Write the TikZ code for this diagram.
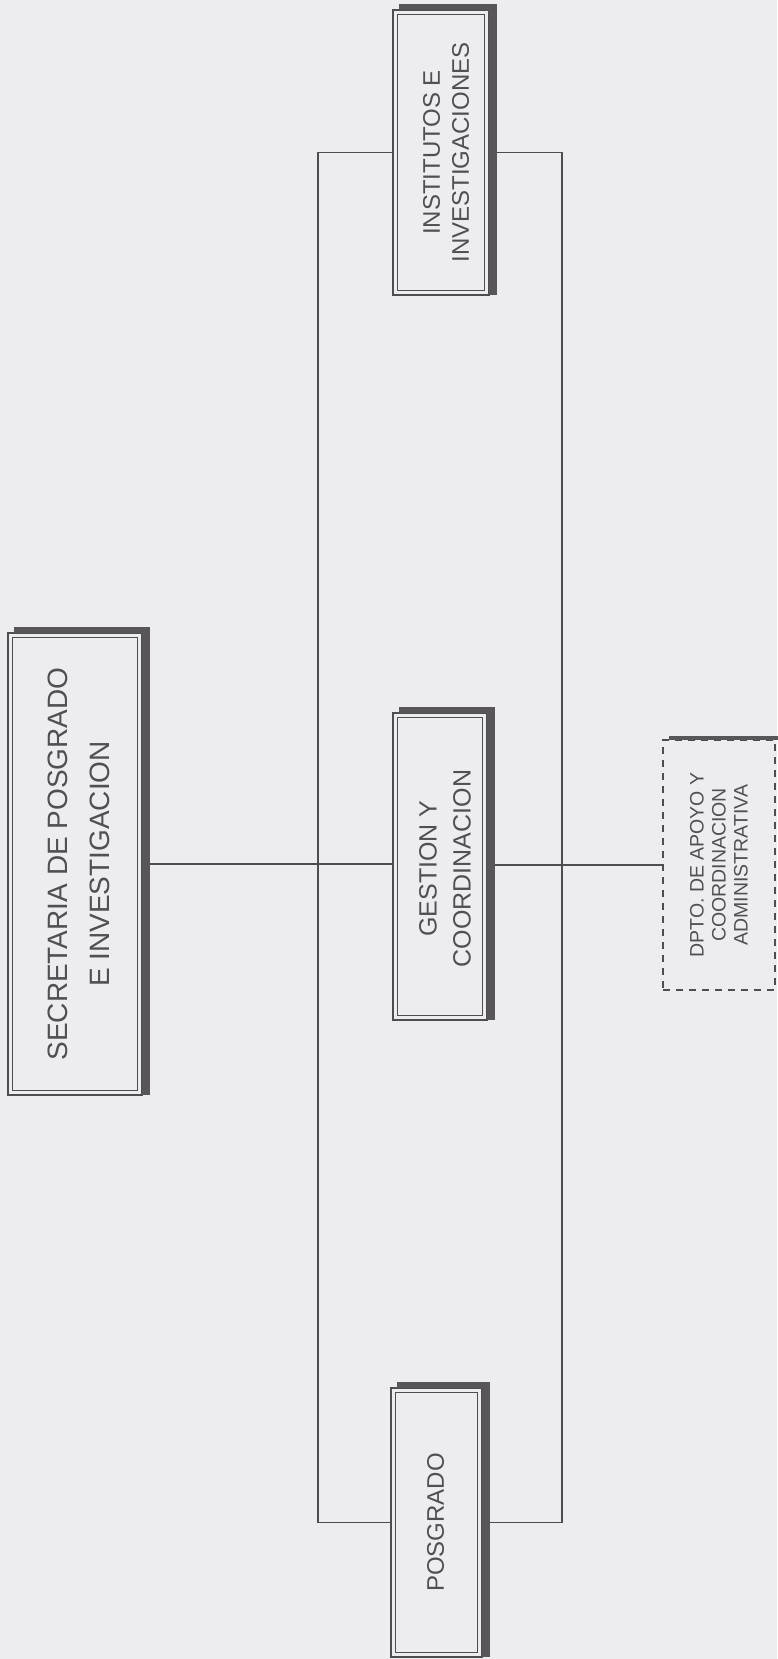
\documentclass[tikz,border=0pt]{standalone}
\usepackage{fontspec}
\setmainfont{Liberation Sans}
\definecolor{bgc}{RGB}{237,237,240}
\definecolor{linec}{RGB}{78,78,80}
\definecolor{shadc}{RGB}{88,86,88}
\definecolor{txtc}{RGB}{80,80,82}
\tikzset{
  frame/.style={draw=linec, line width=1.3pt, inner sep=0pt, outer sep=0pt, fill=bgc},
  dframe/.style={draw=linec, line width=1.4pt, dash pattern=on 7pt off 6pt, inner sep=0pt, outer sep=0pt, fill=bgc},
  conn/.style={draw=linec, line width=1.2pt},
  lbl/.style={text=txtc, rotate=90, align=center, inner sep=0pt},
}
\newcommand\orgdeco[1]{%
  \fill[shadc] ([xshift=6pt]#1.north west) rectangle ([xshift=8pt,yshift=6pt]#1.north east);
  \fill[shadc] (#1.south east) rectangle ([xshift=8pt,yshift=6pt]#1.north east);
  \draw[linec,line width=1.1pt] ([xshift=4.5pt,yshift=-4.5pt]#1.north west) rectangle ([xshift=-4.5pt,yshift=4.5pt]#1.south east);
}
\begin{document}
\begin{tikzpicture}[x=1pt,y=-1pt]
\useasboundingbox (0,0) rectangle (777,1659);
\fill[bgc] (0,0) rectangle (777,1659);
% boxes
\node[frame, minimum width=96pt, minimum height=285pt] (inst) at (441,152.5) {};
\node[frame, minimum width=134pt, minimum height=462pt] (sec) at (75,864) {};
\node[frame, minimum width=94pt, minimum height=307pt] (ges) at (440,866.5) {};
\node[frame, minimum width=91pt, minimum height=269pt] (pos) at (436.5,1522.5) {};
\node[dframe, minimum width=112pt, minimum height=250pt] (dpto) at (719,865) {};
% helper coordinates for the bracket
\coordinate (lx) at (318,0);
\coordinate (rx) at (562,0);
% connectors
\draw[conn] (sec.east) -- (sec.east -| ges.west);
\draw[conn] (ges.east |- dpto.west) -- (dpto.west);
\draw[conn] (inst.west) -- (inst.west -| lx) -- (pos.west -| lx) -- (pos.west);
\draw[conn] (inst.east) -- (inst.east -| rx) -- (pos.east -| rx) -- (pos.east);
% shadows and inner frames
\orgdeco{inst}
\orgdeco{sec}
\orgdeco{ges}
\orgdeco{pos}
\fill[shadc] ([xshift=6pt]dpto.north west) rectangle ([xshift=8pt,yshift=4pt]dpto.north east);
% texts
\node[lbl, font=\fontsize{28}{42}\selectfont] (sec-t) at ([xshift=4pt]sec.center) {SECRETARIA DE POSGRADO\\E INVESTIGACION};
\node[lbl, font=\fontsize{24}{29}\selectfont] (inst-t) at ([xshift=5pt]inst.center) {INSTITUTOS E\\INVESTIGACIONES};
\node[lbl, font=\fontsize{25}{34}\selectfont] (ges-t) at ([xshift=5pt,yshift=-2pt]ges.center) {GESTION Y\\COORDINACION};
\node[lbl, font=\fontsize{24}{29}\selectfont] (pos-t) at ([xshift=-1pt]pos.center) {POSGRADO};
\node[lbl, font=\fontsize{19.5}{22}\selectfont] (dpto-t) at (dpto.center) {DPTO. DE APOYO Y\\COORDINACION\\ADMINISTRATIVA};
\end{tikzpicture}
\end{document}
